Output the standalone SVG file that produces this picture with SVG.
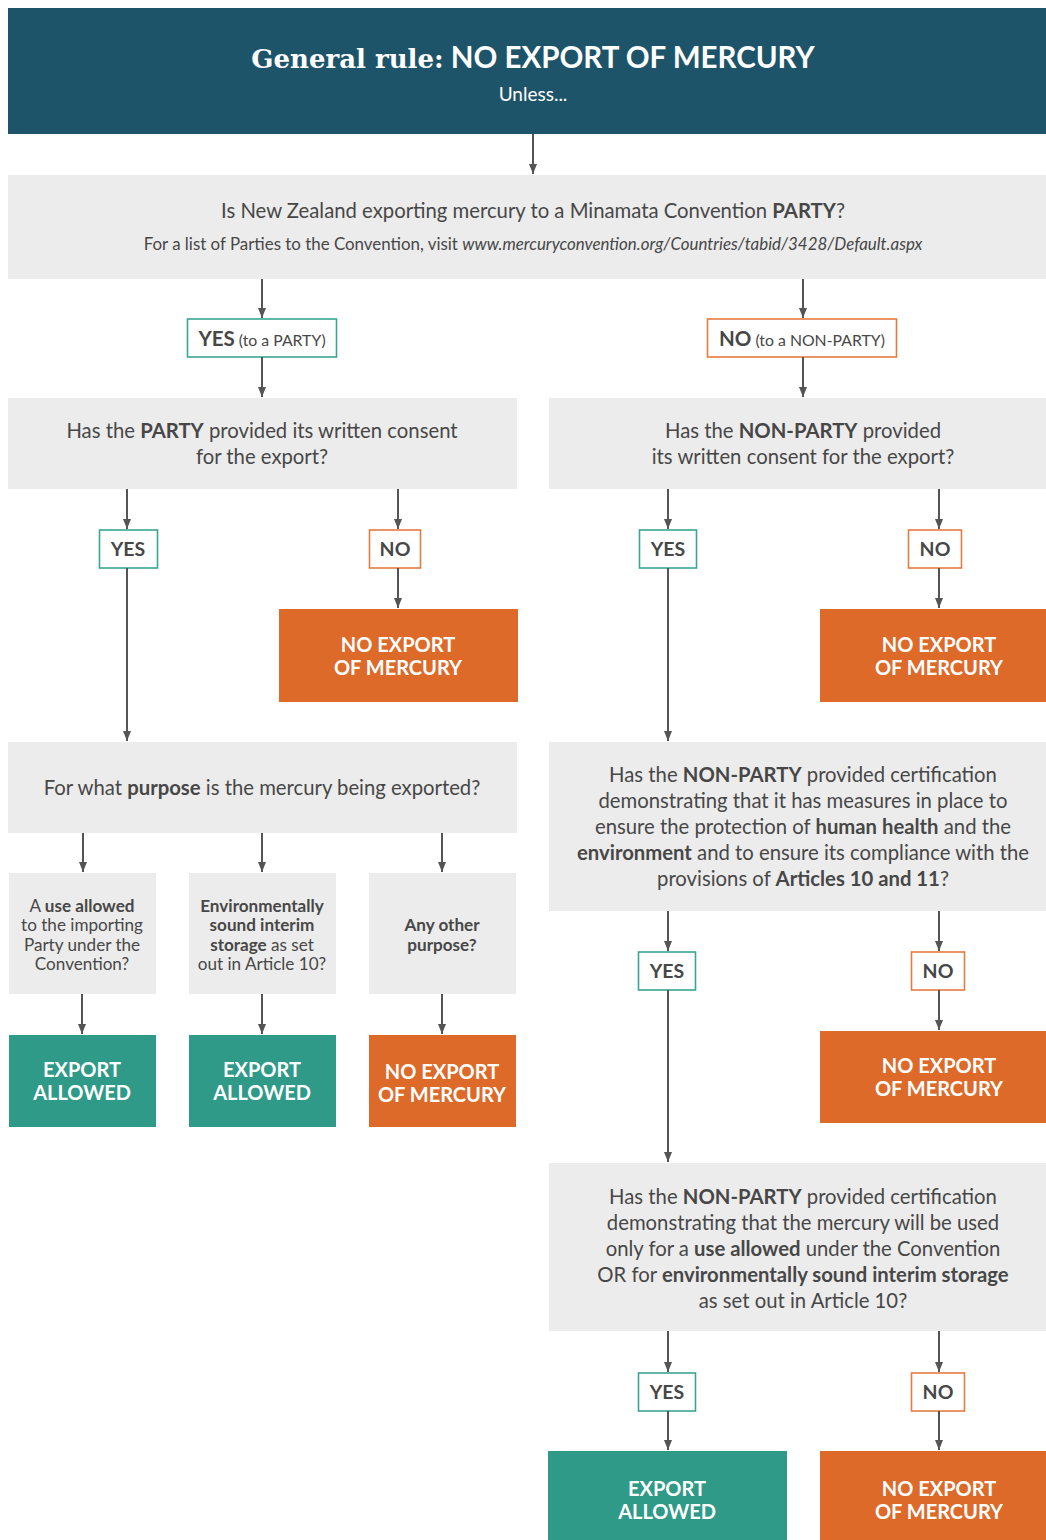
<svg xmlns="http://www.w3.org/2000/svg" width="1046" height="1540" viewBox="0 0 1046 1540">
<style>
text{font-family:Lato,"Open Sans","Liberation Sans",sans-serif;text-anchor:middle;fill:#474747}
.q{font-size:20.3px}
.s{font-size:17.1px}
.b{font-weight:bold}
.w{fill:#fff;font-weight:bold;font-size:20px}
.gray{fill:#ececec}
.teal{fill:#2e9a87}
.orange{fill:#dd6a29}
.ybox{fill:#fff;stroke:#3aa592;stroke-width:1.6}
.nbox{fill:#fff;stroke:#e57b3f;stroke-width:1.6}
.lbl{font-size:19.5px;font-weight:bold}
.e{stroke:#555;stroke-width:2;fill:none;marker-end:url(#ah)}
</style>
<defs>
<marker id="ah" viewBox="0 0 10 8" refX="10" refY="4" markerWidth="10" markerHeight="8" markerUnits="userSpaceOnUse" orient="auto">
<path d="M0,0 L10,4 L0,8 Z" fill="#555"/>
</marker>
</defs>
<rect width="1046" height="1540" fill="#fff"/>

<g id="header">
<rect x="8" y="8" width="1038" height="126" fill="#1e5469"/>
<text x="533" y="68" style="font-size:29.5px;fill:#fff;font-weight:bold"><tspan style="font-family:'DejaVu Serif','Liberation Serif',serif;font-size:26px">General rule:</tspan> NO EXPORT OF MERCURY</text>
<text x="533" y="101" style="font-size:19px;fill:#fff">Unless...</text>
</g>

<g id="q1">
<rect class="gray" x="8" y="175" width="1038" height="104"/>
<text class="q" x="533" y="218">Is New Zealand exporting mercury to a Minamata Convention <tspan class="b">PARTY</tspan>?</text>
<text x="533" y="250" style="font-size:16.9px">For a list of Parties to the Convention, visit <tspan font-style="italic">www.mercuryconvention.org/Countries/tabid/3428/Default.aspx</tspan></text>
</g>

<g id="yes-party">
<rect class="ybox" x="187.5" y="319" width="149" height="38"/>
<text x="262" y="346"><tspan class="lbl" style="font-size:20.5px">YES</tspan><tspan style="font-size:15.8px"> (to a PARTY)</tspan></text>
</g>
<g id="no-nonparty">
<rect class="nbox" x="707.5" y="319" width="189" height="38"/>
<text x="802" y="346"><tspan class="lbl" style="font-size:20.5px">NO</tspan><tspan style="font-size:15.8px"> (to a NON-PARTY)</tspan></text>
</g>

<g id="q-party-consent">
<rect class="gray" x="8" y="398" width="509" height="91"/>
<text class="q" x="262" y="438">Has the <tspan class="b">PARTY</tspan> provided its written consent</text>
<text class="q" x="262" y="464">for the export?</text>
</g>
<g id="q-nonparty-consent">
<rect class="gray" x="549" y="398" width="497" height="91"/>
<text class="q" x="803" y="438">Has the <tspan class="b">NON-PARTY</tspan> provided</text>
<text class="q" x="803" y="464">its written consent for the export?</text>
</g>

<g id="yes1"><rect class="ybox" x="99.5" y="530" width="58" height="38"/><text class="lbl" x="128" y="556">YES</text></g>
<g id="no1"><rect class="nbox" x="369.5" y="530" width="51" height="38"/><text class="lbl" x="395" y="556">NO</text></g>
<g id="yes2"><rect class="ybox" x="639.5" y="530" width="57" height="38"/><text class="lbl" x="668" y="556">YES</text></g>
<g id="no2"><rect class="nbox" x="908.5" y="530" width="53" height="38"/><text class="lbl" x="935" y="556">NO</text></g>

<g id="noexp1"><rect class="orange" x="279" y="609" width="239" height="93"/><text class="w" x="398" y="652">NO EXPORT</text><text class="w" x="398" y="675">OF MERCURY</text></g>
<g id="noexp2"><rect class="orange" x="820" y="609" width="226" height="93"/><text class="w" x="939" y="652">NO EXPORT</text><text class="w" x="939" y="675">OF MERCURY</text></g>

<g id="q-purpose">
<rect class="gray" x="8" y="742" width="509" height="91"/>
<text class="q" x="262" y="795">For what <tspan class="b">purpose</tspan> is the mercury being exported?</text>
</g>

<g id="q-cert1">
<rect class="gray" x="549" y="742" width="497" height="169"/>
<text class="q" x="803" y="782">Has the <tspan class="b">NON-PARTY</tspan> provided certification</text>
<text class="q" x="803" y="808">demonstrating that it has measures in place to</text>
<text class="q" x="803" y="834">ensure the protection of <tspan class="b">human health</tspan> and the</text>
<text class="q" x="803" y="860"><tspan class="b">environment</tspan> and to ensure its compliance with the</text>
<text class="q" x="803" y="886">provisions of <tspan class="b">Articles 10 and 11</tspan>?</text>
</g>

<g id="p-use">
<rect class="gray" x="9" y="873" width="147" height="121"/>
<text class="s" x="82" y="912">A <tspan class="b">use allowed</tspan></text>
<text class="s" x="82" y="931">to the importing</text>
<text class="s" x="82" y="951">Party under the</text>
<text class="s" x="82" y="970">Convention?</text>
</g>
<g id="p-storage">
<rect class="gray" x="189" y="873" width="147" height="121"/>
<text class="s b" x="262" y="912">Environmentally</text>
<text class="s b" x="262" y="931">sound interim</text>
<text class="s" x="262" y="951"><tspan class="b">storage</tspan> as set</text>
<text class="s" x="262" y="970">out in Article 10?</text>
</g>
<g id="p-other">
<rect class="gray" x="369" y="873" width="147" height="121"/>
<text class="s b" x="442" y="931">Any other</text>
<text class="s b" x="442" y="951">purpose?</text>
</g>

<g id="allowed1"><rect class="teal" x="9" y="1035" width="147" height="92"/><text class="w" x="82" y="1077">EXPORT</text><text class="w" x="82" y="1100">ALLOWED</text></g>
<g id="allowed2"><rect class="teal" x="189" y="1035" width="147" height="92"/><text class="w" x="262" y="1077">EXPORT</text><text class="w" x="262" y="1100">ALLOWED</text></g>
<g id="noexp3"><rect class="orange" x="369" y="1035" width="147" height="92"/><text class="w" x="442" y="1079">NO EXPORT</text><text class="w" x="442" y="1102">OF MERCURY</text></g>

<g id="yes3"><rect class="ybox" x="638.5" y="952" width="57" height="38"/><text class="lbl" x="667" y="978">YES</text></g>
<g id="no3"><rect class="nbox" x="911.5" y="952" width="53" height="38"/><text class="lbl" x="938" y="978">NO</text></g>
<g id="noexp4"><rect class="orange" x="820" y="1031" width="226" height="92"/><text class="w" x="939" y="1073">NO EXPORT</text><text class="w" x="939" y="1096">OF MERCURY</text></g>

<g id="q-cert2">
<rect class="gray" x="549" y="1163" width="497" height="168"/>
<text class="q" x="803" y="1204">Has the <tspan class="b">NON-PARTY</tspan> provided certification</text>
<text class="q" x="803" y="1230">demonstrating that the mercury will be used</text>
<text class="q" x="803" y="1256">only for a <tspan class="b">use allowed</tspan> under the Convention</text>
<text class="q" x="803" y="1282">OR for <tspan class="b">environmentally sound interim storage</tspan></text>
<text class="q" x="803" y="1308">as set out in Article 10?</text>
</g>

<g id="yes4"><rect class="ybox" x="638.5" y="1373" width="57" height="38"/><text class="lbl" x="667" y="1399">YES</text></g>
<g id="no4"><rect class="nbox" x="911.5" y="1373" width="53" height="38"/><text class="lbl" x="938" y="1399">NO</text></g>
<g id="allowed3"><rect class="teal" x="548" y="1451" width="239" height="89"/><text class="w" x="667" y="1496">EXPORT</text><text class="w" x="667" y="1519">ALLOWED</text></g>
<g id="noexp5"><rect class="orange" x="820" y="1451" width="226" height="89"/><text class="w" x="939" y="1496">NO EXPORT</text><text class="w" x="939" y="1519">OF MERCURY</text></g>

<g id="connectors">
<line class="e" x1="533" y1="134" x2="533" y2="174"/>
<line class="e" x1="262" y1="279" x2="262" y2="318"/>
<line class="e" x1="803" y1="279" x2="803" y2="318"/>
<line class="e" x1="262" y1="357" x2="262" y2="397"/>
<line class="e" x1="803" y1="357" x2="803" y2="397"/>
<line class="e" x1="127" y1="489" x2="127" y2="529"/>
<line class="e" x1="398" y1="489" x2="398" y2="529"/>
<line class="e" x1="668" y1="489" x2="668" y2="529"/>
<line class="e" x1="939" y1="489" x2="939" y2="529"/>
<line class="e" x1="398" y1="568" x2="398" y2="608"/>
<line class="e" x1="939" y1="568" x2="939" y2="608"/>
<line class="e" x1="127" y1="568" x2="127" y2="741"/>
<line class="e" x1="668" y1="568" x2="668" y2="741"/>
<line class="e" x1="83" y1="833" x2="83" y2="872"/>
<line class="e" x1="262" y1="833" x2="262" y2="872"/>
<line class="e" x1="442" y1="833" x2="442" y2="872"/>
<line class="e" x1="82" y1="994" x2="82" y2="1034"/>
<line class="e" x1="262" y1="994" x2="262" y2="1034"/>
<line class="e" x1="442" y1="994" x2="442" y2="1034"/>
<line class="e" x1="668" y1="911" x2="668" y2="951"/>
<line class="e" x1="939" y1="911" x2="939" y2="951"/>
<line class="e" x1="939" y1="990" x2="939" y2="1030"/>
<line class="e" x1="668" y1="990" x2="668" y2="1162"/>
<line class="e" x1="668" y1="1331" x2="668" y2="1372"/>
<line class="e" x1="939" y1="1331" x2="939" y2="1372"/>
<line class="e" x1="668" y1="1411" x2="668" y2="1450"/>
<line class="e" x1="939" y1="1411" x2="939" y2="1450"/>
</g>
</svg>
